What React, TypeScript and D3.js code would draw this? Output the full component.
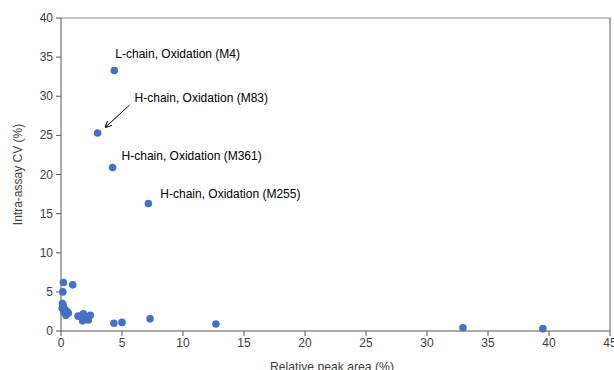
import React from "react";
import * as d3 from "d3";

const xValues = [4.37, 3.0, 4.23, 7.16, 0.2, 0.96, 0.15, 0.12, 0.2, 0.1, 0.35, 0.5, 0.45, 0.6, 0.4, 0.25, 1.4, 1.83, 1.77, 2.24, 2.4, 2.05, 4.34, 5.0, 7.3, 12.7, 32.95, 39.5];
const yValues = [33.3, 25.3, 20.9, 16.3, 6.2, 5.9, 5.0, 3.5, 3.2, 2.9, 2.7, 2.5, 2.2, 2.3, 2.0, 2.4, 1.9, 2.2, 1.3, 1.4, 2.0, 1.75, 1.0, 1.1, 1.55, 0.9, 0.4, 0.3];
const xTicks = [0, 5, 10, 15, 20, 25, 30, 35, 40, 45];
const yTicks = [0, 5, 10, 15, 20, 25, 30, 35, 40];
const labelTexts = ["L-chain, Oxidation (M4)", "H-chain, Oxidation (M83)", "H-chain, Oxidation (M361)", "H-chain, Oxidation (M255)"];
const labelAnchors = [[4.37, 33.3], [3.0, 25.3], [4.23, 20.9], [7.16, 16.3]];

export default function App() {
  const W = 614, H = 370;
  const left = 61, right = 610, top = 18, bottom = 331;
  const x = d3.scaleLinear().domain([0, 45]).range([left, right]);
  const y = d3.scaleLinear().domain([0, 40]).range([bottom, top]);
  const font = "Liberation Sans, Arial, sans-serif";
  const axisColor = "#595959";
  const textColor = "#404040";
  const labelOffsets = [[1, -12], [37, -31], [9, -7], [12, -5]];
  const ax = x(labelAnchors[1][0]), ay = y(labelAnchors[1][1]);
  return (
    <svg width={W} height={H} style={{ position: "absolute", left: 0, top: 0, background: "#fff" }}>
      <defs>
        <marker id="arr" viewBox="0 0 10 10" refX="9" refY="5" markerWidth="7" markerHeight="7" orient="auto-start-reverse">
          <path d="M0,0 L10,5 L0,10" fill="none" stroke="#000" strokeWidth="1.4" />
        </marker>
      </defs>
      <rect x={0} y={0} width={W} height={H} fill="#fff" />
      <line x1={left} x2={right} y1={top} y2={top} stroke="#8c8c8c" strokeWidth={1} />
      <line x1={right} x2={right} y1={top} y2={bottom} stroke={axisColor} strokeWidth={1} />
      <line x1={left} x2={right} y1={bottom} y2={bottom} stroke={axisColor} strokeWidth={1} />
      <line x1={left} x2={left} y1={top} y2={bottom} stroke={axisColor} strokeWidth={1} />
      {xTicks.map((t) => (
        <g key={"x" + t}>
          <line x1={x(t)} x2={x(t)} y1={bottom} y2={bottom + 5} stroke={axisColor} />
          <text x={x(t)} y={bottom + 16} textAnchor="middle" fontFamily={font} fontSize={12} fill={textColor}>{t}</text>
        </g>
      ))}
      {yTicks.map((t) => (
        <g key={"y" + t}>
          <line x1={left - 5} x2={left} y1={y(t)} y2={y(t)} stroke={axisColor} />
          <text x={left - 8} y={y(t) + 4} textAnchor="end" fontFamily={font} fontSize={12} fill={textColor}>{t}</text>
        </g>
      ))}
      {xValues.map((v, i) => (
        <circle key={i} cx={x(v)} cy={y(yValues[i])} r={3.8} fill="#4472C4" />
      ))}
      {labelTexts.map((s, i) => (
        <text key={s} x={x(labelAnchors[i][0]) + labelOffsets[i][0]} y={y(labelAnchors[i][1]) + labelOffsets[i][1]} fontFamily={font} fontSize={12} fill="#000">{s}</text>
      ))}
      <line x1={ax + 32} y1={ay - 28} x2={ax + 8} y2={ay - 6} stroke="#000" strokeWidth={1} markerEnd="url(#arr)" />
      <text transform={`translate(22,${(top + bottom) / 2}) rotate(-90)`} textAnchor="middle" fontFamily={font} fontSize={12} fill={textColor}>Intra-assay CV (%)</text>
      <text x={332} y={371} textAnchor="middle" fontFamily={font} fontSize={12.2} fill={textColor}>Relative peak area (%)</text>
    </svg>
  );
}
